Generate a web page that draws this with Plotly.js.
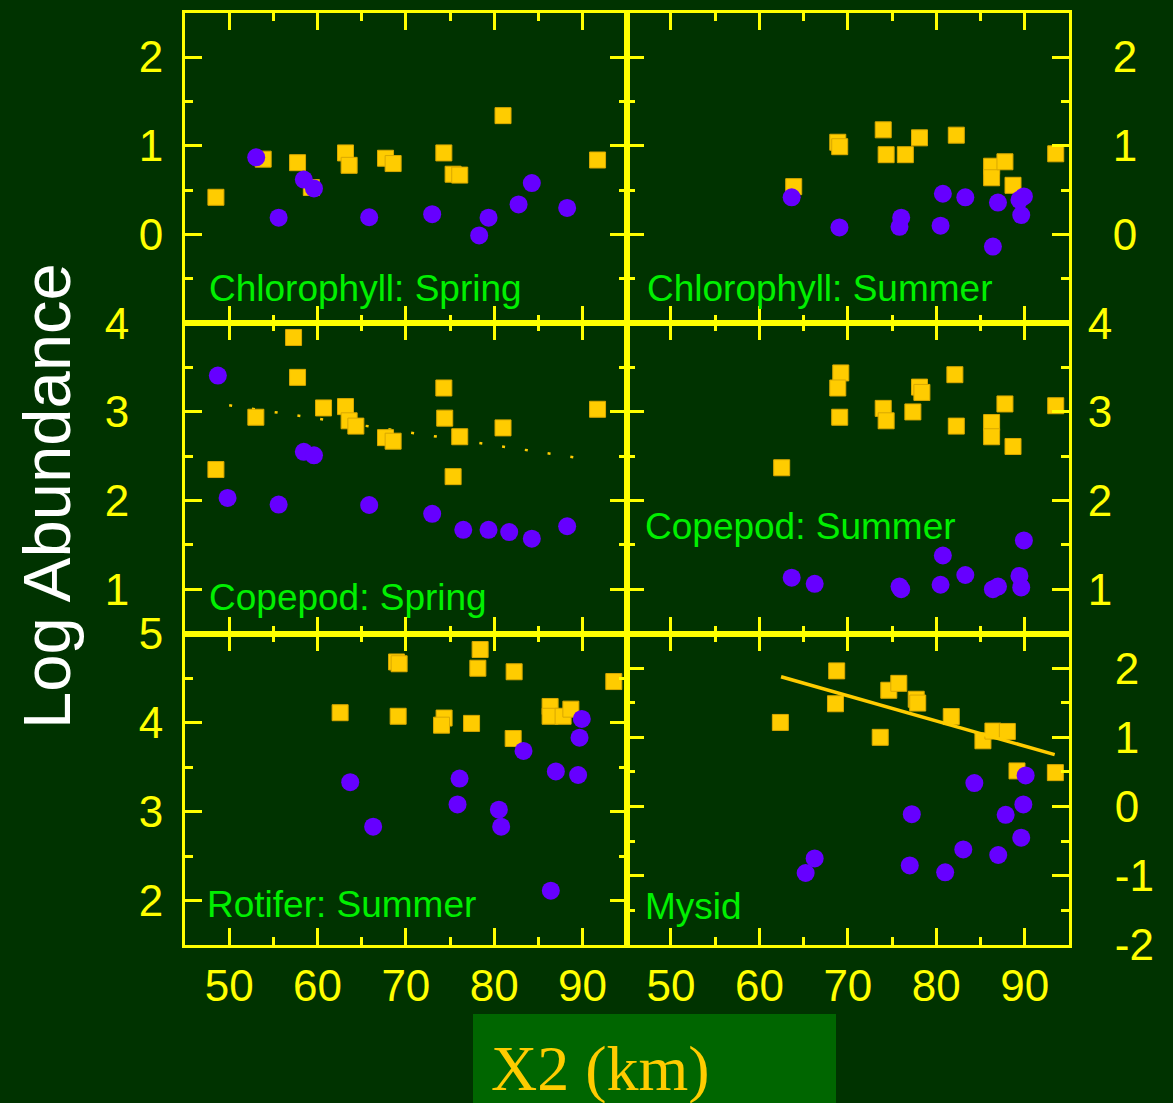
<!DOCTYPE html>
<html>
<head>
<meta charset="utf-8">
<script src="https://cdn.plot.ly/plotly-3.0.1.min.js"></script>
<style>html,body{margin:0;padding:0;background:#003300;}#chart{width:1173px;height:1103px;}</style>
</head>
<body>
<div id="chart"></div>
<script>
// ---------- DATA ----------
const panelTitles = ["Chlorophyll: Spring", "Chlorophyll: Summer", "Copepod: Spring", "Copepod: Summer", "Rotifer: Summer", "Mysid"];
const xTickVals = [50, 60, 70, 80, 90];
const xTickText = ["50", "60", "70", "80", "90"];

// Chlorophyll: Spring
const chlSpringSqX = [48.5, 53.85, 57.74, 59.3, 63.17, 63.58, 67.7, 68.56, 74.3, 75.35, 76.1, 81.0, 91.7];
const chlSpringSqY = [0.42, 0.85, 0.81, 0.53, 0.92, 0.78, 0.86, 0.80, 0.92, 0.68, 0.67, 1.34, 0.84];
const chlSpringCirX = [53.06, 55.6, 58.45, 59.6, 65.85, 72.98, 78.3, 79.36, 82.76, 84.26, 88.26];
const chlSpringCirY = [0.87, 0.19, 0.62, 0.52, 0.195, 0.23, -0.01, 0.19, 0.34, 0.58, 0.30];

// Chlorophyll: Summer
const chlSummerSqX = [63.88, 68.86, 69.08, 74.0, 74.33, 76.5, 78.1, 82.26, 86.25, 86.25, 87.76, 88.67, 93.5];
const chlSummerSqY = [0.54, 1.04, 0.99, 1.18, 0.90, 0.90, 1.09, 1.12, 0.77, 0.64, 0.82, 0.555, 0.91];
const chlSummerCirX = [63.65, 69.05, 76.03, 75.84, 80.74, 80.48, 83.28, 86.4, 86.97, 89.9, 89.4, 89.6];
const chlSummerCirY = [0.42, 0.08, 0.19, 0.087, 0.46, 0.10, 0.42, -0.135, 0.36, 0.43, 0.39, 0.22];

// Copepod: Spring
const copSpringSqX = [48.5, 53.02, 57.29, 57.74, 60.68, 63.17, 63.58, 64.34, 67.7, 68.56, 74.3, 74.4, 75.35, 76.1, 81.0, 91.7];
const copSpringSqY = [2.35, 2.94, 3.84, 3.39, 3.045, 3.06, 2.90, 2.84, 2.71, 2.67, 3.27, 2.93, 2.27, 2.72, 2.82, 3.03];
const copSpringCirX = [48.72, 49.82, 55.6, 58.45, 59.6, 65.85, 72.98, 76.5, 79.36, 81.7, 84.26, 88.26];
const copSpringCirY = [3.41, 2.03, 1.955, 2.55, 2.51, 1.95, 1.85, 1.67, 1.67, 1.645, 1.57, 1.71];
const copSpringFitX = [50, 90.9];
const copSpringFitY = [3.075, 2.46];

// Copepod: Summer
const copSummerSqX = [62.52, 69.2, 68.86, 69.08, 74.0, 74.33, 77.35, 78.1, 78.37, 82.1, 82.26, 86.25, 86.25, 87.76, 88.67, 93.5];
const copSummerSqY = [2.37, 3.44, 3.27, 2.94, 3.04, 2.90, 3.0, 3.28, 3.22, 3.42, 2.84, 2.88, 2.72, 3.09, 2.61, 3.07];
const copSummerCirX = [63.65, 66.25, 75.84, 76.03, 80.74, 80.48, 83.28, 86.4, 86.97, 89.9, 89.4, 89.6];
const copSummerCirY = [1.13, 1.06, 1.03, 1.0, 1.38, 1.05, 1.16, 1.0, 1.03, 1.55, 1.15, 1.02];

// Rotifer: Summer
const rotSummerSqX = [62.56, 68.95, 69.24, 69.13, 74.33, 74.04, 77.44, 78.41, 78.15, 82.26, 82.15, 86.33, 86.33, 87.8, 88.68, 93.54];
const rotSummerSqY = [4.11, 4.68, 4.66, 4.07, 4.05, 3.97, 3.99, 4.82, 4.61, 4.57, 3.82, 4.18, 4.07, 4.07, 4.15, 4.46];
const rotSummerCirX = [63.7, 66.3, 76.08, 75.85, 80.53, 80.79, 83.32, 86.41, 86.98, 89.92, 89.66, 89.5];
const rotSummerCirY = [3.33, 2.83, 3.37, 3.08, 3.02, 2.83, 3.68, 2.11, 3.45, 4.04, 3.83, 3.41];

// Mysid
const mysidSqX = [62.37, 68.74, 68.6, 73.66, 74.63, 75.76, 77.73, 77.9, 81.69, 85.27, 86.4, 88.03, 89.12, 93.46];
const mysidSqY = [1.215, 1.96, 1.485, 1.00, 1.68, 1.78, 1.55, 1.495, 1.30, 0.95, 1.09, 1.085, 0.515, 0.49];
const mysidCirX = [66.25, 65.23, 77.23, 77.0, 81.0, 83.05, 84.3, 87.0, 87.84, 90.1, 89.84, 89.6];
const mysidCirY = [-0.75, -0.96, -0.11, -0.85, -0.95, -0.62, 0.34, -0.70, -0.12, 0.45, 0.03, -0.45];
const mysidFitX = [62.45, 93.38];
const mysidFitY = [1.875, 0.75];

// y tick labels per panel
const yTicks1 = [0, 1, 2];
const yTicks3 = [1, 2, 3, 4];
const yTicks5 = [2, 3, 4, 5];
const yTicks6 = [-2, -1, 0, 1, 2];
const yTickText6 = ["-2", "-1", "0", "1", "2"];

// ---------- STYLE ----------
const BG = "#003300";
const AX = "#FFFF00";
const GOLD = "#FFCC00";
const PURPLE = "#6600FF";
const SANS = "Liberation Sans, Arial, Helvetica, sans-serif";
const W = 1173, H = 1103;
const px = v => v / W;
const py = v => 1 - v / H;

const colL = [px(185), px(626.7)];
const colR = [px(626.7), px(1069)];
const row1 = [py(323.3), py(12.7)];
const row2 = [py(633.5), py(323.3)];
const row3 = [py(945), py(633.5)];

function sq(x, y, ax) {
  return {x: x, y: y, xaxis: "x" + ax, yaxis: "y" + ax, type: "scatter", mode: "markers",
    marker: {symbol: "square", size: 16, color: GOLD, line: {width: 1, color: "#D9A800"}},
    hoverinfo: "skip", showlegend: false};
}
function cir(x, y, ax) {
  return {x: x, y: y, xaxis: "x" + ax, yaxis: "y" + ax, type: "scatter", mode: "markers",
    marker: {symbol: "circle", size: 18, color: PURPLE, line: {width: 0}},
    hoverinfo: "skip", showlegend: false};
}
function fit(x, y, ax, dash, w) {
  return {x: x, y: y, xaxis: "x" + ax, yaxis: "y" + ax, type: "scatter", mode: "lines",
    line: {color: GOLD, width: w, dash: dash}, hoverinfo: "skip", showlegend: false};
}

const a = ["", "2", "3", "4", "5", "6"];
const data = [
  sq(chlSpringSqX, chlSpringSqY, a[0]), cir(chlSpringCirX, chlSpringCirY, a[0]),
  sq(chlSummerSqX, chlSummerSqY, a[1]), cir(chlSummerCirX, chlSummerCirY, a[1]),
  fit(copSpringFitX, copSpringFitY, a[2], "3px,20px", 2.5),
  sq(copSpringSqX, copSpringSqY, a[2]), cir(copSpringCirX, copSpringCirY, a[2]),
  sq(copSummerSqX, copSummerSqY, a[3]), cir(copSummerCirX, copSummerCirY, a[3]),
  sq(rotSummerSqX, rotSummerSqY, a[4]), cir(rotSummerCirX, rotSummerCirY, a[4]),
  sq(mysidSqX, mysidSqY, a[5]), fit(mysidFitX, mysidFitY, a[5], "solid", 3.5), cir(mysidCirX, mysidCirY, a[5])
];

function xAx(domain, anchor, showLabels) {
  return {domain: domain, anchor: anchor, range: [45, 95], showgrid: false, zeroline: false,
    showline: true, linecolor: AX, linewidth: 3, mirror: "ticks",
    ticks: "inside", ticklen: 17, tickwidth: 3, tickcolor: AX,
    tickmode: "array", tickvals: xTickVals, ticktext: xTickText,
    minor: {ticks: "inside", ticklen: 8, tickwidth: 3, tickcolor: AX, tickmode: "linear", tick0: 45, dtick: 5, showgrid: false},
    showticklabels: showLabels, ticklabelstandoff: 0,
    tickfont: {family: SANS, size: 44, color: AX}};
}
function yAx(domain, anchor, side, range, vals, text, standoff) {
  return {domain: domain, anchor: anchor, side: side, range: range, showgrid: false, zeroline: false,
    showline: true, linecolor: AX, linewidth: 3, mirror: "ticks",
    ticks: "inside", ticklen: 17, tickwidth: 3, tickcolor: AX,
    tickmode: "array", tickvals: vals, ticktext: text,
    minor: {ticks: "inside", ticklen: 8, tickwidth: 3, tickcolor: AX, tickmode: "linear", tick0: 0, dtick: 0.5, showgrid: false},
    ticklabelstandoff: standoff,
    tickfont: {family: SANS, size: 44, color: AX}};
}
const str = v => v.map(String);

const labelPos = [[207, 288], [645, 288], [207, 597], [643, 526], [205, 904], [643, 906]];
const annotations = panelTitles.map((t, i) => ({
  text: t, xref: "paper", yref: "paper", x: px(labelPos[i][0]), y: py(labelPos[i][1]),
  xanchor: "left", yanchor: "middle", showarrow: false,
  font: {family: SANS, size: 37, color: "#00F000"}
}));
annotations.push({text: "Log Abundance", xref: "paper", yref: "paper", x: px(46), y: py(496),
  xanchor: "center", yanchor: "middle", textangle: -90, showarrow: false,
  font: {family: SANS, size: 67, color: "#FFFFFF"}});
annotations.push({text: "X2 (km)", xref: "paper", yref: "paper", x: px(600), y: py(1068),
  xanchor: "center", yanchor: "middle", showarrow: false,
  font: {family: "Liberation Serif, Times New Roman, serif", size: 64, color: GOLD}});

const layout = {
  width: W, height: H, autosize: false,
  margin: {l: 0, r: 0, t: 0, b: 0, pad: 0},
  paper_bgcolor: BG, plot_bgcolor: BG,
  showlegend: false, hovermode: false,
  xaxis: xAx(colL, "y", false),
  xaxis2: xAx(colR, "y2", false),
  xaxis3: xAx(colL, "y3", false),
  xaxis4: xAx(colR, "y4", false),
  xaxis5: xAx(colL, "y5", true),
  xaxis6: xAx(colR, "y6", true),
  yaxis: yAx(row1, "x", "left", [-1, 2.5], yTicks1, str(yTicks1), 10),
  yaxis2: yAx(row1, "x2", "right", [-1, 2.5], yTicks1, str(yTicks1), 32),
  yaxis3: yAx(row2, "x3", "left", [0.5, 4], yTicks3, str(yTicks3), 44),
  yaxis4: yAx(row2, "x4", "right", [0.5, 4], yTicks3, str(yTicks3), 7),
  yaxis5: yAx(row3, "x5", "left", [1.5, 5], yTicks5, str(yTicks5), 10),
  yaxis6: yAx(row3, "x6", "right", [-2, 2.5], yTicks6, yTickText6, 34),
  shapes: [{type: "rect", xref: "paper", yref: "paper", x0: px(473), x1: px(836), y0: 0, y1: py(1014),
    fillcolor: "#006600", line: {width: 0}, layer: "below"}],
  annotations: annotations
};

Plotly.newPlot("chart", data, layout, {displayModeBar: false, staticPlot: true});
</script>
</body>
</html>
